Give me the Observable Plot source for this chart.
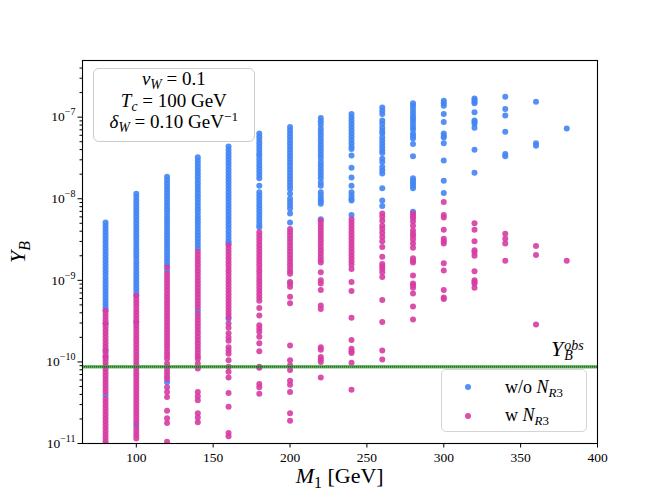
<!DOCTYPE html>
<html><head><meta charset="utf-8">
<script src="https://cdn.jsdelivr.net/npm/d3@7"></script>
<script src="https://cdn.jsdelivr.net/npm/@observablehq/plot@0.6"></script>
<style>
body{margin:0;background:#fff;}
#wrap{position:relative;width:664px;height:498px;font-family:"Liberation Serif",serif;color:#000;}
.ov{position:absolute;white-space:nowrap;}
.sb{font-size:0.72em;vertical-align:-0.3em;line-height:0;}
.sp{font-size:0.7em;vertical-align:0.5em;line-height:0;}
</style></head><body><div id="wrap"></div>
<script>
// heavy-neutrino mass M1 [GeV] for each column of points
const masses = [80,100,120,140,160,180,200,220,240,260,280,300,320,340,360,380];

// log10(Y_B) without N_R3 (blue), one list per mass
const logYB_without = [
 [-8.29,-8.33,-8.37,-8.41,-8.45,-8.49,-8.53,-8.57,-8.61,-8.65,-8.69,-8.73,-8.77,-8.81,-8.85,-8.89,-8.93,-8.97,-9.01,-9.05,-9.09,-9.13,-9.17,-9.21,-9.25,-9.29,-9.33,-9.37,-9.53,-9.86,-9.94,-10.41],
 [-7.94,-7.98,-8.02,-8.06,-8.10,-8.14,-8.18,-8.22,-8.26,-8.30,-8.34,-8.38,-8.42,-8.46,-8.50,-8.54,-8.58,-8.62,-8.66,-8.70,-8.74,-8.78,-8.82,-8.86,-8.90,-8.94,-8.98,-9.02,-9.06,-9.10,-9.14,-9.18,-9.51,-10.78],
 [-7.73,-7.77,-7.81,-7.85,-7.89,-7.93,-7.97,-8.01,-8.05,-8.09,-8.13,-8.17,-8.21,-8.25,-8.29,-8.33,-8.37,-8.41,-8.45,-8.49,-8.53,-8.57,-8.61,-8.65,-8.69,-8.73,-8.77,-8.81,-8.88,-10.25],
 [-7.49,-7.53,-7.57,-7.61,-7.65,-7.69,-7.73,-7.77,-7.81,-7.85,-7.89,-7.93,-7.97,-8.01,-8.05,-8.09,-8.13,-8.17,-8.21,-8.25,-8.29,-8.33,-8.37,-8.41,-8.45,-8.49,-8.53,-8.57,-8.61,-9.37],
 [-7.36,-7.40,-7.44,-7.48,-7.52,-7.56,-7.60,-7.64,-7.68,-7.72,-7.76,-7.80,-7.84,-7.88,-7.92,-7.96,-8.00,-8.04,-8.08,-8.12,-8.16,-8.20,-8.24,-8.28,-8.32,-8.36,-8.40,-8.44,-8.48,-8.52,-8.55,-9.47],
 [-7.20,-7.24,-7.28,-7.32,-7.36,-7.40,-7.44,-7.47,-7.51,-7.55,-7.59,-7.63,-7.67,-7.71,-7.75,-7.84,-7.92,-7.96,-8.00,-8.04,-8.08,-8.12,-8.16,-8.20,-8.24,-8.28,-8.32,-8.35],
 [-7.12,-7.16,-7.20,-7.24,-7.28,-7.32,-7.36,-7.40,-7.44,-7.48,-7.52,-7.56,-7.60,-7.64,-7.68,-7.72,-7.76,-7.80,-7.84,-7.88,-7.94,-8.00,-8.04,-8.08,-8.12,-8.18,-8.29],
 [-7.01,-7.05,-7.09,-7.14,-7.18,-7.22,-7.26,-7.30,-7.34,-7.38,-7.42,-7.46,-7.50,-7.55,-7.59,-7.63,-7.67,-7.71,-7.75,-7.80,-7.84,-7.92,-7.96,-8.00,-8.03,-8.06,-8.25],
 [-6.96,-7.00,-7.04,-7.08,-7.12,-7.16,-7.20,-7.24,-7.28,-7.32,-7.36,-7.39,-7.47,-7.62,-7.74,-7.84,-7.92,-7.96,-8.00,-8.02,-8.20],
 [-6.88,-6.92,-6.96,-7.04,-7.08,-7.13,-7.17,-7.20,-7.25,-7.29,-7.33,-7.37,-7.41,-7.44,-7.51,-7.55,-7.61,-7.65,-7.69,-7.87,-8.02,-8.09],
 [-6.83,-6.86,-6.90,-6.94,-6.98,-7.01,-7.04,-7.08,-7.12,-7.15,-7.20,-7.23,-7.26,-7.33,-7.48,-7.75,-7.78,-7.81,-7.84,-7.87,-8.16],
 [-6.80,-6.83,-6.86,-6.96,-7.06,-7.20,-7.23,-7.25,-7.32,-7.53,-7.78,-7.93],
 [-6.77,-6.79,-6.81,-6.83,-6.94,-7.04,-7.06,-7.08,-7.13,-7.40,-7.68],
 [-6.75,-6.90,-6.98,-7.18,-7.45,-7.48],
 [-6.81,-7.32,-7.35],
 [-7.14]
];

// log10(Y_B) with N_R3 (magenta), one list per mass
const logYB_with = [
 [-9.37,-9.41,-9.45,-9.49,-9.53,-9.57,-9.61,-9.65,-9.69,-9.73,-9.77,-9.81,-9.85,-9.89,-9.93,-9.97,-10.01,-10.05,-10.09,-10.13,-10.17,-10.21,-10.25,-10.29,-10.33,-10.37,-10.45,-10.49,-10.53,-10.57,-10.61,-10.65,-10.69,-10.73,-10.77,-10.81,-10.85,-10.89,-10.93,-10.97,-11.0],
 [-9.19,-9.23,-9.27,-9.31,-9.35,-9.39,-9.43,-9.47,-9.51,-9.55,-9.59,-9.63,-9.67,-9.71,-9.75,-9.79,-9.83,-9.87,-9.91,-9.95,-9.99,-10.03,-10.07,-10.11,-10.15,-10.19,-10.23,-10.27,-10.31,-10.35,-10.39,-10.43,-10.47,-10.51,-10.55,-10.59,-10.63,-10.67,-10.71,-10.75,-10.82,-10.86,-10.90,-10.94],
 [-8.84,-8.92,-8.96,-9.00,-9.04,-9.08,-9.12,-9.16,-9.20,-9.24,-9.28,-9.32,-9.36,-9.40,-9.44,-9.48,-9.52,-9.56,-9.60,-9.64,-9.68,-9.72,-9.76,-9.80,-9.84,-9.88,-9.92,-9.96,-10.02,-10.06,-10.10,-10.14,-10.18,-10.21,-10.31,-10.37,-10.43,-10.60,-10.69,-10.75,-10.98],
 [-8.65,-8.69,-8.73,-8.77,-8.81,-8.85,-8.89,-8.93,-8.97,-9.01,-9.05,-9.09,-9.13,-9.17,-9.21,-9.25,-9.29,-9.33,-9.41,-9.45,-9.49,-9.53,-9.57,-9.61,-9.65,-9.69,-9.73,-9.77,-9.81,-9.85,-9.89,-9.93,-9.96,-10.02,-10.08,-10.37,-10.42,-10.47,-10.63,-10.68,-10.74],
 [-8.57,-8.61,-8.65,-8.69,-8.73,-8.77,-8.81,-8.85,-8.89,-8.93,-8.97,-9.01,-9.05,-9.09,-9.13,-9.17,-9.21,-9.25,-9.29,-9.33,-9.37,-9.41,-9.45,-9.53,-9.58,-9.65,-9.70,-9.74,-9.82,-9.86,-9.90,-9.98,-10.06,-10.12,-10.19,-10.38,-10.55,-10.87,-10.91],
 [-8.41,-8.45,-8.49,-8.53,-8.57,-8.61,-8.65,-8.69,-8.73,-8.77,-8.81,-8.85,-8.89,-8.93,-8.97,-9.01,-9.05,-9.09,-9.13,-9.17,-9.21,-9.25,-9.34,-9.43,-9.55,-9.59,-9.63,-9.69,-9.77,-9.87,-10.06,-10.07,-10.27,-10.31,-10.39],
 [-8.37,-8.41,-8.45,-8.49,-8.53,-8.57,-8.61,-8.65,-8.69,-8.73,-8.77,-8.81,-8.85,-8.89,-8.92,-9.02,-9.04,-9.08,-9.20,-9.28,-9.80,-9.98,-10.04,-10.10,-10.23,-10.28,-10.37,-10.63,-10.72],
 [-8.27,-8.31,-8.35,-8.39,-8.43,-8.47,-8.51,-8.55,-8.59,-8.63,-8.67,-8.71,-8.75,-8.78,-8.90,-9.00,-9.04,-9.12,-9.31,-9.35,-9.82,-9.85,-9.94,-9.97,-10.00,-10.19],
 [-8.25,-8.29,-8.33,-8.37,-8.41,-8.45,-8.49,-8.53,-8.57,-8.61,-8.65,-8.69,-8.73,-8.77,-8.81,-8.86,-9.02,-9.13,-9.46,-9.73,-9.84,-9.87,-9.89,-10.01,-10.34],
 [-8.18,-8.22,-8.27,-8.33,-8.37,-8.42,-8.47,-8.52,-8.59,-8.71,-8.80,-8.83,-8.86,-8.90,-8.96,-9.24,-9.51,-9.86,-9.97],
 [-8.18,-8.21,-8.24,-8.28,-8.33,-8.39,-8.43,-8.46,-8.50,-8.55,-8.60,-8.73,-8.76,-8.78,-8.94,-9.04,-9.06,-9.09,-9.16,-9.32,-9.48],
 [-8.04,-8.20,-8.23,-8.38,-8.49,-8.52,-8.55,-8.79,-8.88,-9.12,-9.21,-9.23],
 [-8.30,-8.38,-8.52,-8.63,-8.66,-8.70,-8.89,-9.00,-9.02,-9.04,-9.09],
 [-8.43,-8.49,-8.55,-8.76],
 [-8.58,-8.69,-9.54],
 [-8.76]
];

const YBobs = 8.7e-11;
const seriesColors = ["#4285f4", "#d63ca3"];
const xTicks = [100,150,200,250,300,350,400];
const yMajorTicks = [1e-11,1e-10,1e-9,1e-8,1e-7];
const xDomain = [65, 400];
const yDomain = [1e-11, 4.95e-7];

const blueRows = [], magRows = [];
masses.forEach((m, i) => {
  logYB_without[i].forEach(v => blueRows.push({M: m, YB: Math.pow(10, v)}));
  logYB_with[i].forEach(v => magRows.push({M: m, YB: Math.pow(10, v)}));
});

const yMinorTicks = [];
for (let e = -11; e <= -7; e++) for (let k = 2; k <= 9; k++) {
  const v = k * Math.pow(10, e);
  if (v < yDomain[1]) yMinorTicks.push(v);
}

const chart = Plot.plot({
  width: 664, height: 498,
  marginLeft: 82, marginRight: 67, marginTop: 60, marginBottom: 55,
  style: {fontFamily: "Liberation Serif", fontSize: "13.5px", background: "transparent", overflow: "visible", color: "#000"},
  x: {domain: xDomain, label: null},
  y: {type: "log", domain: yDomain, label: null},
  marks: [
    Plot.dot(blueRows, {x: "M", y: "YB", r: 3, fill: seriesColors[0], fillOpacity: 0.9, clip: true}),
    Plot.dot(magRows, {x: "M", y: "YB", r: 3, fill: seriesColors[1], fillOpacity: 0.9, clip: true}),
    Plot.ruleY([YBobs], {stroke: "#3f9f3f", strokeWidth: 3.5, strokeOpacity: 0.75}),
    Plot.ruleY([YBobs], {stroke: "#0a5c0a", strokeWidth: 1.4, strokeDasharray: "1.2,0.8"}),
    Plot.axisX({ticks: xTicks, tickSize: 4.5, tickPadding: 4, label: null}),
    Plot.axisY({ticks: yMajorTicks, tickSize: 4.5, tickPadding: 2.5, label: null,
      tickFormat: d => "10|" + String(Math.round(Math.log10(d))).replace("-", "\u2212")}),
    Plot.axisY({ticks: yMinorTicks, tickSize: 2.5, label: null, tickFormat: () => ""}),
    Plot.frame({stroke: "#000", strokeWidth: 1.1})
  ]
});

const wrap = document.getElementById("wrap");
wrap.appendChild(chart);

// superscript exponents on y tick labels
chart.querySelectorAll('g[aria-label="y-axis tick label"] text').forEach(t => {
  const s = t.textContent;
  if (!s.includes("|")) return;
  const [base, ex] = s.split("|");
  t.textContent = "";
  const ns = "http://www.w3.org/2000/svg";
  const a = document.createElementNS(ns, "tspan"); a.textContent = base; t.appendChild(a);
  const b = document.createElementNS(ns, "tspan"); b.textContent = ex;
  b.setAttribute("dy", "-6"); b.setAttribute("font-size", "10px"); t.appendChild(b);
});

function ov(html, css) {
  const d = document.createElement("div");
  d.className = "ov"; d.innerHTML = html; d.style.cssText += css;
  wrap.appendChild(d); return d;
}

// parameter box
ov("", "left:92.7px;top:68.3px;width:162.3px;height:73.4px;box-sizing:border-box;border:1.3px solid #cccccc;border-radius:6px;background:rgba(255,255,255,0.85);");
ov('<i>v</i><span class="sb"><i>W</i></span> = 0.1', "left:173.8px;top:69px;font-size:19px;line-height:19px;transform:translateX(-50%);");
ov('<i>T</i><span class="sb"><i>c</i></span> = 100 GeV', "left:173.8px;top:90.8px;font-size:19px;line-height:19px;transform:translateX(-50%);");
ov('<i>δ</i><span class="sb"><i>W</i></span> = 0.10 GeV<span class="sp">\u22121</span>', "left:173.8px;top:112.4px;font-size:19px;line-height:19px;transform:translateX(-50%);");

// Y_B^obs label: stacked superscript / subscript
ov('<i>Y</i><span style="display:inline-block;vertical-align:-3.6px;font-size:14px;line-height:10px;margin-left:1px;"><span style="display:block"><i>obs</i></span><span style="display:block"><i>B</i></span></span>',
   "left:551px;top:338px;font-size:22px;line-height:22px;");

// legend
ov("", "left:440.7px;top:369.3px;width:146px;height:62.4px;box-sizing:border-box;border:1.3px solid #d5d5d5;border-radius:5px;background:rgba(255,255,255,0.85);");
ov("", `left:465.3px;top:384.3px;width:6px;height:6px;border-radius:50%;background:${seriesColors[0]};opacity:0.9;`);
ov("", `left:465.3px;top:412.7px;width:6px;height:6px;border-radius:50%;background:${seriesColors[1]};opacity:0.9;`);
ov('w/o <i>N</i><span class="sb"><i>R</i>3</span>', "left:505px;top:378.3px;font-size:18px;line-height:18px;");
ov('w <i>N</i><span class="sb"><i>R</i>3</span>', "left:505px;top:405.6px;font-size:18px;line-height:18px;");

// axis labels
ov('<i>M</i><span class="sb">1</span> [GeV]', "left:339.7px;top:465px;font-size:22px;line-height:22px;transform:translateX(-50%);");
ov('<i>Y</i><span class="sb"><i>B</i></span>', "left:18px;top:252px;font-size:22px;line-height:22px;transform:translate(-50%,-50%) rotate(-90deg);");
</script>
</body></html>
